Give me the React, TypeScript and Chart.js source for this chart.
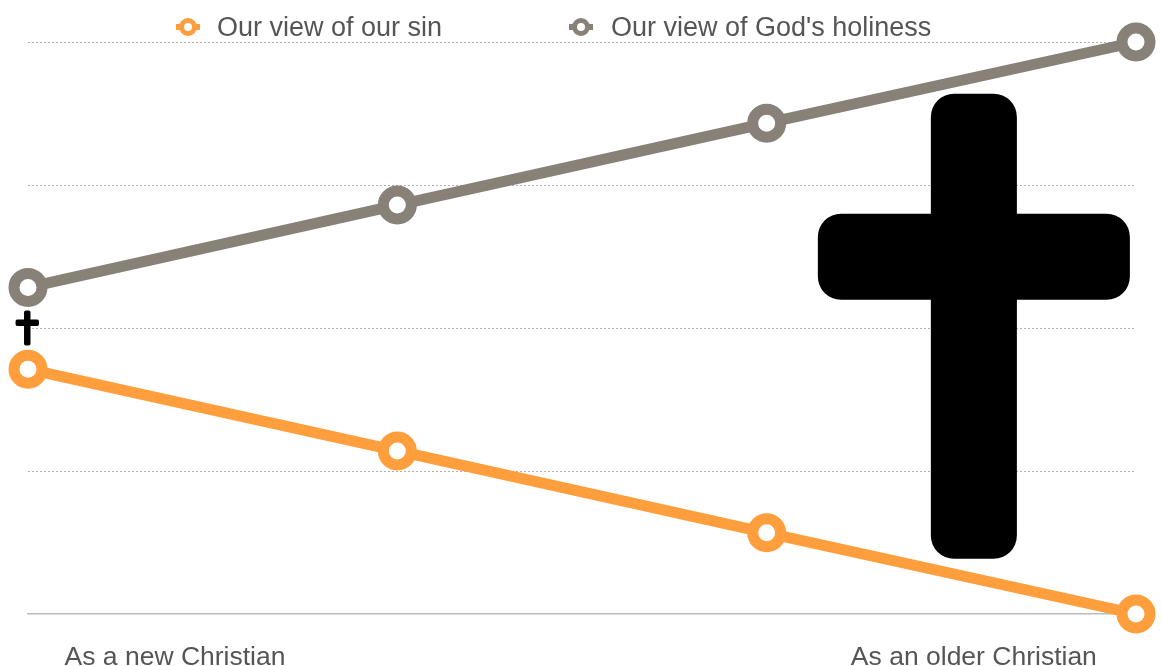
import React, { useEffect, useRef } from "react";
import { Chart, registerables } from "chart.js";

Chart.register(...registerables);

const positions = [0, 1, 2, 3];
const sinValues = [42.8, 28.5, 14.2, 0];
const holinessValues = [57.1, 71.5, 85.8, 100];
const sinLabel = "Our view of our sin";
const holinessLabel = "Our view of God's holiness";
const axisLabels = ["As a new Christian", "As an older Christian"];
const axisLabelPositions = [0.398, 2.561];
const crossCentersX = [-0.002, 2.561];
const crossCenterY = [50, 50.3];
const crossSpans = [6.1, 81.3];

const ORANGE = "#FF9E3D";
const GREY = "#888178";
const TEXT = "#555555";
const FONT = '"Liberation Sans", Arial, sans-serif';

const crossPlugin = {
  id: "crosses",
  beforeDatasetsDraw(chart: any) {
    const { ctx, scales } = chart;
    crossCentersX.forEach((cx, i) => {
      const x = scales.x.getPixelForValue(cx);
      const y = scales.y.getPixelForValue(crossCenterY[i]);
      const h = Math.abs(scales.y.getPixelForValue(0) - scales.y.getPixelForValue(crossSpans[i]));
      const w = h * 0.671;
      const t = h * 0.185;
      const r = h * 0.05;
      const armY = y - h * 0.5 + h * 0.258;
      ctx.save();
      ctx.fillStyle = "#000";
      ctx.beginPath();
      ctx.roundRect(x - t / 2, y - h / 2, t, h, r);
      ctx.roundRect(x - w / 2, armY, w, t, r);
      ctx.fill();
      ctx.restore();
    });
  },
};

const legendPlugin = {
  id: "spreadLegend",
  afterDraw(chart: any) {
    const { ctx } = chart;
    const items = [
      { label: sinLabel, color: ORANGE, x: 188 },
      { label: holinessLabel, color: GREY, x: 581 },
    ];
    ctx.save();
    items.forEach((it) => {
      ctx.strokeStyle = it.color;
      ctx.lineWidth = 6;
      ctx.beginPath();
      ctx.moveTo(it.x - 12, 27);
      ctx.lineTo(it.x + 12, 27);
      ctx.stroke();
      ctx.beginPath();
      ctx.arc(it.x, 27, 6.5, 0, Math.PI * 2);
      ctx.fillStyle = "#fff";
      ctx.lineWidth = 5;
      ctx.fill();
      ctx.stroke();
      ctx.fillStyle = TEXT;
      ctx.font = `27px ${FONT}`;
      ctx.textBaseline = "middle";
      ctx.fillText(it.label, it.x + 29 + (it.x > 400 ? 1 : 0), 29);
    });
    ctx.restore();
  },
};

export default function App() {
  const ref = useRef<HTMLCanvasElement>(null);
  useEffect(() => {
    const line = (label: string, values: number[], color: string) => ({
      label,
      data: positions.map((x, i) => ({ x, y: values[i] })),
      borderColor: color,
      backgroundColor: "#fff",
      pointBackgroundColor: "#fff",
      pointBorderColor: color,
      borderWidth: 11,
      pointBorderWidth: 11,
      pointRadius: 14,
      clip: false as const,
      tension: 0,
    });
    const chart = new Chart(ref.current!, {
      type: "line",
      data: {
        datasets: [line(sinLabel, sinValues, ORANGE), line(holinessLabel, holinessValues, GREY)],
      },
      options: {
        animation: false,
        responsive: false,
        layout: { padding: { left: 28, right: 26, top: 42, bottom: 0 } },
        plugins: { legend: { display: false }, tooltip: { enabled: false } },
        scales: {
          x: {
            type: "linear",
            min: 0,
            max: 3,
            afterBuildTicks: (axis: any) => {
              axis.ticks = axisLabelPositions.map((value) => ({ value }));
            },
            afterFit: (axis: any) => {
              axis.height = 52;
            },
            grid: { display: false },
            border: { display: true, color: "#BBBBBB", width: 1.5 },
            ticks: {
              autoSkip: false,
              maxRotation: 0,
              padding: 20,
              color: TEXT,
              font: { family: FONT, size: 26.5 },
              callback: (v: any) => axisLabels[axisLabelPositions.indexOf(Number(v))],
            },
          },
          y: {
            min: 0,
            max: 100,
            afterBuildTicks: (axis: any) => {
              axis.ticks = [0, 25, 50, 75, 100].map((value) => ({ value }));
            },
            ticks: { display: false },
            border: { display: false, dash: [2, 2] },
            grid: {
              drawTicks: false,
              color: (c: any) => (c.tick && c.tick.value === 0 ? "transparent" : "#B0B0B0"),
              lineWidth: 1,
            },
          },
        },
      },
      plugins: [crossPlugin, legendPlugin],
    } as any);
    return () => chart.destroy();
  }, []);
  return (
    <canvas
      ref={ref}
      width={1162}
      height={666}
      style={{ position: "fixed", left: 0, top: 0, display: "block" }}
    />
  );
}
